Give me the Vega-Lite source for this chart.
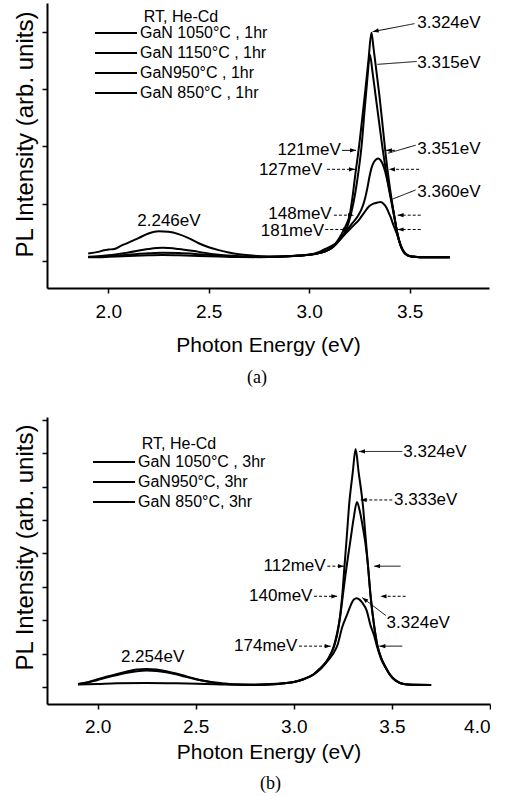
{
"$schema":"https://vega.github.io/schema/vega-lite/v6.json",
"padding":{"left":13,"top":3,"right":0,"bottom":0},
"config":{"font":"Liberation Sans","view":{"stroke":null},
"axis":{"domainColor":"black","domainWidth":2,"tickColor":"black","tickWidth":1.5,"tickSize":5,"grid":false,"labelColor":"black","titleColor":"black","labelFont":"Liberation Sans","titleFont":"Liberation Sans","titleFontWeight":"normal"},
"legend":{"labelFont":"Liberation Sans","titleFont":"Liberation Sans","labelColor":"black","titleColor":"black","titleFontWeight":"normal","padding":0},
"title":{"font":"Liberation Serif","fontSize":18,"fontWeight":"normal","color":"black"}},
"datasets":{
"curvesA":[
{"s":"GaN 1050°C , 1hr","E":1.9,"I":0.065},{"s":"GaN 1050°C , 1hr","E":1.95,"I":0.068},{"s":"GaN 1050°C , 1hr","E":2.0,"I":0.075},{"s":"GaN 1050°C , 1hr","E":2.1,"I":0.09},{"s":"GaN 1050°C , 1hr","E":2.2,"I":0.1},{"s":"GaN 1050°C , 1hr","E":2.27,"I":0.105},{"s":"GaN 1050°C , 1hr","E":2.35,"I":0.1},{"s":"GaN 1050°C , 1hr","E":2.45,"I":0.09},{"s":"GaN 1050°C , 1hr","E":2.55,"I":0.08},{"s":"GaN 1050°C , 1hr","E":2.65,"I":0.07},{"s":"GaN 1050°C , 1hr","E":2.75,"I":0.068},{"s":"GaN 1050°C , 1hr","E":2.85,"I":0.075},{"s":"GaN 1050°C , 1hr","E":2.95,"I":0.095},{"s":"GaN 1050°C , 1hr","E":3.0,"I":0.11},{"s":"GaN 1050°C , 1hr","E":3.05,"I":0.14},{"s":"GaN 1050°C , 1hr","E":3.08,"I":0.17},{"s":"GaN 1050°C , 1hr","E":3.11,"I":0.23},{"s":"GaN 1050°C , 1hr","E":3.13,"I":0.3},{"s":"GaN 1050°C , 1hr","E":3.15,"I":0.4},{"s":"GaN 1050°C , 1hr","E":3.17,"I":0.53},{"s":"GaN 1050°C , 1hr","E":3.19,"I":0.68},{"s":"GaN 1050°C , 1hr","E":3.2,"I":0.78},{"s":"GaN 1050°C , 1hr","E":3.215,"I":1.1},{"s":"GaN 1050°C , 1hr","E":3.23,"I":1.52},{"s":"GaN 1050°C , 1hr","E":3.25,"I":2.05},{"s":"GaN 1050°C , 1hr","E":3.265,"I":2.52},{"s":"GaN 1050°C , 1hr","E":3.28,"I":3.0},{"s":"GaN 1050°C , 1hr","E":3.295,"I":3.5},{"s":"GaN 1050°C , 1hr","E":3.31,"I":3.98},{"s":"GaN 1050°C , 1hr","E":3.32,"I":3.72},{"s":"GaN 1050°C , 1hr","E":3.335,"I":3.3},{"s":"GaN 1050°C , 1hr","E":3.35,"I":2.87},{"s":"GaN 1050°C , 1hr","E":3.365,"I":2.38},{"s":"GaN 1050°C , 1hr","E":3.38,"I":1.88},{"s":"GaN 1050°C , 1hr","E":3.395,"I":1.45},{"s":"GaN 1050°C , 1hr","E":3.41,"I":1.08},{"s":"GaN 1050°C , 1hr","E":3.425,"I":0.76},{"s":"GaN 1050°C , 1hr","E":3.44,"I":0.47},{"s":"GaN 1050°C , 1hr","E":3.455,"I":0.28},{"s":"GaN 1050°C , 1hr","E":3.47,"I":0.17},{"s":"GaN 1050°C , 1hr","E":3.49,"I":0.105},{"s":"GaN 1050°C , 1hr","E":3.51,"I":0.08},{"s":"GaN 1050°C , 1hr","E":3.55,"I":0.068},{"s":"GaN 1050°C , 1hr","E":3.6,"I":0.065},{"s":"GaN 1050°C , 1hr","E":3.7,"I":0.065},
{"s":"GaN 1150°C , 1hr","E":1.9,"I":0.07},{"s":"GaN 1150°C , 1hr","E":1.95,"I":0.075},{"s":"GaN 1150°C , 1hr","E":2.0,"I":0.085},{"s":"GaN 1150°C , 1hr","E":2.1,"I":0.11},{"s":"GaN 1150°C , 1hr","E":2.2,"I":0.135},{"s":"GaN 1150°C , 1hr","E":2.27,"I":0.145},{"s":"GaN 1150°C , 1hr","E":2.35,"I":0.14},{"s":"GaN 1150°C , 1hr","E":2.45,"I":0.12},{"s":"GaN 1150°C , 1hr","E":2.55,"I":0.095},{"s":"GaN 1150°C , 1hr","E":2.65,"I":0.08},{"s":"GaN 1150°C , 1hr","E":2.75,"I":0.07},{"s":"GaN 1150°C , 1hr","E":2.85,"I":0.075},{"s":"GaN 1150°C , 1hr","E":2.95,"I":0.095},{"s":"GaN 1150°C , 1hr","E":3.0,"I":0.11},{"s":"GaN 1150°C , 1hr","E":3.05,"I":0.14},{"s":"GaN 1150°C , 1hr","E":3.08,"I":0.17},{"s":"GaN 1150°C , 1hr","E":3.11,"I":0.22},{"s":"GaN 1150°C , 1hr","E":3.13,"I":0.28},{"s":"GaN 1150°C , 1hr","E":3.15,"I":0.36},{"s":"GaN 1150°C , 1hr","E":3.17,"I":0.46},{"s":"GaN 1150°C , 1hr","E":3.19,"I":0.6},{"s":"GaN 1150°C , 1hr","E":3.21,"I":0.85},{"s":"GaN 1150°C , 1hr","E":3.23,"I":1.2},{"s":"GaN 1150°C , 1hr","E":3.245,"I":1.55},{"s":"GaN 1150°C , 1hr","E":3.262,"I":2.05},{"s":"GaN 1150°C , 1hr","E":3.275,"I":2.6},{"s":"GaN 1150°C , 1hr","E":3.29,"I":3.2},{"s":"GaN 1150°C , 1hr","E":3.302,"I":3.6},{"s":"GaN 1150°C , 1hr","E":3.315,"I":3.3},{"s":"GaN 1150°C , 1hr","E":3.33,"I":2.9},{"s":"GaN 1150°C , 1hr","E":3.345,"I":2.5},{"s":"GaN 1150°C , 1hr","E":3.363,"I":2.02},{"s":"GaN 1150°C , 1hr","E":3.38,"I":1.62},{"s":"GaN 1150°C , 1hr","E":3.395,"I":1.32},{"s":"GaN 1150°C , 1hr","E":3.41,"I":1.04},{"s":"GaN 1150°C , 1hr","E":3.425,"I":0.75},{"s":"GaN 1150°C , 1hr","E":3.44,"I":0.46},{"s":"GaN 1150°C , 1hr","E":3.455,"I":0.28},{"s":"GaN 1150°C , 1hr","E":3.47,"I":0.17},{"s":"GaN 1150°C , 1hr","E":3.49,"I":0.1},{"s":"GaN 1150°C , 1hr","E":3.51,"I":0.078},{"s":"GaN 1150°C , 1hr","E":3.55,"I":0.068},{"s":"GaN 1150°C , 1hr","E":3.6,"I":0.065},{"s":"GaN 1150°C , 1hr","E":3.7,"I":0.065},
{"s":"GaN950°C , 1hr","E":1.9,"I":0.075},{"s":"GaN950°C , 1hr","E":1.95,"I":0.085},{"s":"GaN950°C , 1hr","E":2.0,"I":0.1},{"s":"GaN950°C , 1hr","E":2.1,"I":0.15},{"s":"GaN950°C , 1hr","E":2.2,"I":0.21},{"s":"GaN950°C , 1hr","E":2.27,"I":0.23},{"s":"GaN950°C , 1hr","E":2.35,"I":0.21},{"s":"GaN950°C , 1hr","E":2.45,"I":0.16},{"s":"GaN950°C , 1hr","E":2.55,"I":0.11},{"s":"GaN950°C , 1hr","E":2.65,"I":0.085},{"s":"GaN950°C , 1hr","E":2.75,"I":0.075},{"s":"GaN950°C , 1hr","E":2.85,"I":0.08},{"s":"GaN950°C , 1hr","E":2.95,"I":0.095},{"s":"GaN950°C , 1hr","E":3.0,"I":0.11},{"s":"GaN950°C , 1hr","E":3.05,"I":0.14},{"s":"GaN950°C , 1hr","E":3.08,"I":0.17},{"s":"GaN950°C , 1hr","E":3.11,"I":0.23},{"s":"GaN950°C , 1hr","E":3.13,"I":0.29},{"s":"GaN950°C , 1hr","E":3.15,"I":0.38},{"s":"GaN950°C , 1hr","E":3.18,"I":0.5},{"s":"GaN950°C , 1hr","E":3.215,"I":0.66},{"s":"GaN950°C , 1hr","E":3.245,"I":0.8},{"s":"GaN950°C , 1hr","E":3.26,"I":0.9},{"s":"GaN950°C , 1hr","E":3.275,"I":1.05},{"s":"GaN950°C , 1hr","E":3.29,"I":1.28},{"s":"GaN950°C , 1hr","E":3.3,"I":1.47},{"s":"GaN950°C , 1hr","E":3.31,"I":1.62},{"s":"GaN950°C , 1hr","E":3.323,"I":1.73},{"s":"GaN950°C , 1hr","E":3.344,"I":1.79},{"s":"GaN950°C , 1hr","E":3.355,"I":1.76},{"s":"GaN950°C , 1hr","E":3.367,"I":1.68},{"s":"GaN950°C , 1hr","E":3.378,"I":1.56},{"s":"GaN950°C , 1hr","E":3.39,"I":1.38},{"s":"GaN950°C , 1hr","E":3.4,"I":1.2},{"s":"GaN950°C , 1hr","E":3.41,"I":1.02},{"s":"GaN950°C , 1hr","E":3.425,"I":0.74},{"s":"GaN950°C , 1hr","E":3.44,"I":0.46},{"s":"GaN950°C , 1hr","E":3.455,"I":0.27},{"s":"GaN950°C , 1hr","E":3.47,"I":0.16},{"s":"GaN950°C , 1hr","E":3.49,"I":0.1},{"s":"GaN950°C , 1hr","E":3.51,"I":0.078},{"s":"GaN950°C , 1hr","E":3.55,"I":0.068},{"s":"GaN950°C , 1hr","E":3.6,"I":0.065},{"s":"GaN950°C , 1hr","E":3.7,"I":0.065},
{"s":"GaN 850°C , 1hr","E":1.9,"I":0.13},{"s":"GaN 850°C , 1hr","E":1.95,"I":0.16},{"s":"GaN 850°C , 1hr","E":1.98,"I":0.19},{"s":"GaN 850°C , 1hr","E":2.0,"I":0.2},{"s":"GaN 850°C , 1hr","E":2.03,"I":0.21},{"s":"GaN 850°C , 1hr","E":2.06,"I":0.26},{"s":"GaN 850°C , 1hr","E":2.1,"I":0.32},{"s":"GaN 850°C , 1hr","E":2.15,"I":0.4},{"s":"GaN 850°C , 1hr","E":2.2,"I":0.48},{"s":"GaN 850°C , 1hr","E":2.25,"I":0.52},{"s":"GaN 850°C , 1hr","E":2.3,"I":0.51},{"s":"GaN 850°C , 1hr","E":2.35,"I":0.47},{"s":"GaN 850°C , 1hr","E":2.4,"I":0.4},{"s":"GaN 850°C , 1hr","E":2.45,"I":0.31},{"s":"GaN 850°C , 1hr","E":2.5,"I":0.24},{"s":"GaN 850°C , 1hr","E":2.55,"I":0.19},{"s":"GaN 850°C , 1hr","E":2.6,"I":0.15},{"s":"GaN 850°C , 1hr","E":2.65,"I":0.12},{"s":"GaN 850°C , 1hr","E":2.7,"I":0.1},{"s":"GaN 850°C , 1hr","E":2.8,"I":0.08},{"s":"GaN 850°C , 1hr","E":2.9,"I":0.085},{"s":"GaN 850°C , 1hr","E":3.0,"I":0.11},{"s":"GaN 850°C , 1hr","E":3.05,"I":0.16},{"s":"GaN 850°C , 1hr","E":3.08,"I":0.21},{"s":"GaN 850°C , 1hr","E":3.11,"I":0.26},{"s":"GaN 850°C , 1hr","E":3.15,"I":0.36},{"s":"GaN 850°C , 1hr","E":3.181,"I":0.48},{"s":"GaN 850°C , 1hr","E":3.215,"I":0.6},{"s":"GaN 850°C , 1hr","E":3.248,"I":0.72},{"s":"GaN 850°C , 1hr","E":3.275,"I":0.85},{"s":"GaN 850°C , 1hr","E":3.297,"I":0.95},{"s":"GaN 850°C , 1hr","E":3.32,"I":1.0},{"s":"GaN 850°C , 1hr","E":3.34,"I":1.02},{"s":"GaN 850°C , 1hr","E":3.355,"I":1.03},{"s":"GaN 850°C , 1hr","E":3.37,"I":1.0},{"s":"GaN 850°C , 1hr","E":3.385,"I":0.93},{"s":"GaN 850°C , 1hr","E":3.395,"I":0.85},{"s":"GaN 850°C , 1hr","E":3.405,"I":0.77},{"s":"GaN 850°C , 1hr","E":3.42,"I":0.62},{"s":"GaN 850°C , 1hr","E":3.44,"I":0.44},{"s":"GaN 850°C , 1hr","E":3.455,"I":0.27},{"s":"GaN 850°C , 1hr","E":3.47,"I":0.16},{"s":"GaN 850°C , 1hr","E":3.49,"I":0.1},{"s":"GaN 850°C , 1hr","E":3.51,"I":0.078},{"s":"GaN 850°C , 1hr","E":3.55,"I":0.068},{"s":"GaN 850°C , 1hr","E":3.6,"I":0.065},{"s":"GaN 850°C , 1hr","E":3.7,"I":0.065}
],
"curvesB":[
{"s":"GaN 1050°C , 3hr","E":1.9,"I":0.08},{"s":"GaN 1050°C , 3hr","E":2.0,"I":0.1},{"s":"GaN 1050°C , 3hr","E":2.1,"I":0.12},{"s":"GaN 1050°C , 3hr","E":2.25,"I":0.13},{"s":"GaN 1050°C , 3hr","E":2.4,"I":0.12},{"s":"GaN 1050°C , 3hr","E":2.55,"I":0.1},{"s":"GaN 1050°C , 3hr","E":2.7,"I":0.08},{"s":"GaN 1050°C , 3hr","E":2.85,"I":0.09},{"s":"GaN 1050°C , 3hr","E":2.95,"I":0.12},{"s":"GaN 1050°C , 3hr","E":3.0,"I":0.16},{"s":"GaN 1050°C , 3hr","E":3.05,"I":0.24},{"s":"GaN 1050°C , 3hr","E":3.1,"I":0.38},{"s":"GaN 1050°C , 3hr","E":3.137,"I":0.58},{"s":"GaN 1050°C , 3hr","E":3.16,"I":0.72},{"s":"GaN 1050°C , 3hr","E":3.18,"I":0.9},{"s":"GaN 1050°C , 3hr","E":3.205,"I":1.25},{"s":"GaN 1050°C , 3hr","E":3.22,"I":1.6},{"s":"GaN 1050°C , 3hr","E":3.235,"I":2.1},{"s":"GaN 1050°C , 3hr","E":3.247,"I":2.75},{"s":"GaN 1050°C , 3hr","E":3.258,"I":3.6},{"s":"GaN 1050°C , 3hr","E":3.27,"I":4.5},{"s":"GaN 1050°C , 3hr","E":3.281,"I":5.39},{"s":"GaN 1050°C , 3hr","E":3.3,"I":6.4},{"s":"GaN 1050°C , 3hr","E":3.315,"I":7.12},{"s":"GaN 1050°C , 3hr","E":3.33,"I":6.45},{"s":"GaN 1050°C , 3hr","E":3.353,"I":5.39},{"s":"GaN 1050°C , 3hr","E":3.365,"I":4.55},{"s":"GaN 1050°C , 3hr","E":3.378,"I":3.64},{"s":"GaN 1050°C , 3hr","E":3.391,"I":2.75},{"s":"GaN 1050°C , 3hr","E":3.408,"I":1.9},{"s":"GaN 1050°C , 3hr","E":3.426,"I":1.25},{"s":"GaN 1050°C , 3hr","E":3.445,"I":0.88},{"s":"GaN 1050°C , 3hr","E":3.468,"I":0.6},{"s":"GaN 1050°C , 3hr","E":3.49,"I":0.38},{"s":"GaN 1050°C , 3hr","E":3.52,"I":0.2},{"s":"GaN 1050°C , 3hr","E":3.56,"I":0.1},{"s":"GaN 1050°C , 3hr","E":3.6,"I":0.075},{"s":"GaN 1050°C , 3hr","E":3.7,"I":0.07},
{"s":"GaN950°C, 3hr","E":1.9,"I":0.1},{"s":"GaN950°C, 3hr","E":1.95,"I":0.15},{"s":"GaN950°C, 3hr","E":2.0,"I":0.24},{"s":"GaN950°C, 3hr","E":2.05,"I":0.32},{"s":"GaN950°C, 3hr","E":2.1,"I":0.4},{"s":"GaN950°C, 3hr","E":2.15,"I":0.47},{"s":"GaN950°C, 3hr","E":2.2,"I":0.53},{"s":"GaN950°C, 3hr","E":2.25,"I":0.55},{"s":"GaN950°C, 3hr","E":2.3,"I":0.53},{"s":"GaN950°C, 3hr","E":2.35,"I":0.48},{"s":"GaN950°C, 3hr","E":2.4,"I":0.41},{"s":"GaN950°C, 3hr","E":2.45,"I":0.33},{"s":"GaN950°C, 3hr","E":2.5,"I":0.25},{"s":"GaN950°C, 3hr","E":2.55,"I":0.19},{"s":"GaN950°C, 3hr","E":2.6,"I":0.14},{"s":"GaN950°C, 3hr","E":2.65,"I":0.11},{"s":"GaN950°C, 3hr","E":2.7,"I":0.085},{"s":"GaN950°C, 3hr","E":2.8,"I":0.07},{"s":"GaN950°C, 3hr","E":2.9,"I":0.09},{"s":"GaN950°C, 3hr","E":2.95,"I":0.12},{"s":"GaN950°C, 3hr","E":3.0,"I":0.16},{"s":"GaN950°C, 3hr","E":3.05,"I":0.24},{"s":"GaN950°C, 3hr","E":3.1,"I":0.38},{"s":"GaN950°C, 3hr","E":3.137,"I":0.58},{"s":"GaN950°C, 3hr","E":3.16,"I":0.72},{"s":"GaN950°C, 3hr","E":3.18,"I":0.9},{"s":"GaN950°C, 3hr","E":3.205,"I":1.22},{"s":"GaN950°C, 3hr","E":3.22,"I":1.55},{"s":"GaN950°C, 3hr","E":3.235,"I":2.05},{"s":"GaN950°C, 3hr","E":3.25,"I":2.75},{"s":"GaN950°C, 3hr","E":3.262,"I":3.3},{"s":"GaN950°C, 3hr","E":3.275,"I":3.85},{"s":"GaN950°C, 3hr","E":3.29,"I":4.45},{"s":"GaN950°C, 3hr","E":3.305,"I":5.05},{"s":"GaN950°C, 3hr","E":3.322,"I":5.54},{"s":"GaN950°C, 3hr","E":3.335,"I":5.3},{"s":"GaN950°C, 3hr","E":3.35,"I":4.85},{"s":"GaN950°C, 3hr","E":3.365,"I":4.3},{"s":"GaN950°C, 3hr","E":3.378,"I":3.64},{"s":"GaN950°C, 3hr","E":3.391,"I":2.75},{"s":"GaN950°C, 3hr","E":3.408,"I":1.9},{"s":"GaN950°C, 3hr","E":3.426,"I":1.25},{"s":"GaN950°C, 3hr","E":3.445,"I":0.88},{"s":"GaN950°C, 3hr","E":3.468,"I":0.6},{"s":"GaN950°C, 3hr","E":3.49,"I":0.38},{"s":"GaN950°C, 3hr","E":3.52,"I":0.2},{"s":"GaN950°C, 3hr","E":3.56,"I":0.1},{"s":"GaN950°C, 3hr","E":3.6,"I":0.075},{"s":"GaN950°C, 3hr","E":3.7,"I":0.07},
{"s":"GaN 850°C, 3hr","E":1.9,"I":0.09},{"s":"GaN 850°C, 3hr","E":1.95,"I":0.14},{"s":"GaN 850°C, 3hr","E":2.0,"I":0.22},{"s":"GaN 850°C, 3hr","E":2.05,"I":0.3},{"s":"GaN 850°C, 3hr","E":2.1,"I":0.37},{"s":"GaN 850°C, 3hr","E":2.15,"I":0.43},{"s":"GaN 850°C, 3hr","E":2.2,"I":0.48},{"s":"GaN 850°C, 3hr","E":2.25,"I":0.5},{"s":"GaN 850°C, 3hr","E":2.3,"I":0.49},{"s":"GaN 850°C, 3hr","E":2.35,"I":0.45},{"s":"GaN 850°C, 3hr","E":2.4,"I":0.39},{"s":"GaN 850°C, 3hr","E":2.45,"I":0.31},{"s":"GaN 850°C, 3hr","E":2.5,"I":0.24},{"s":"GaN 850°C, 3hr","E":2.55,"I":0.18},{"s":"GaN 850°C, 3hr","E":2.6,"I":0.13},{"s":"GaN 850°C, 3hr","E":2.65,"I":0.1},{"s":"GaN 850°C, 3hr","E":2.7,"I":0.08},{"s":"GaN 850°C, 3hr","E":2.8,"I":0.07},{"s":"GaN 850°C, 3hr","E":2.9,"I":0.09},{"s":"GaN 850°C, 3hr","E":2.95,"I":0.12},{"s":"GaN 850°C, 3hr","E":3.0,"I":0.16},{"s":"GaN 850°C, 3hr","E":3.05,"I":0.25},{"s":"GaN 850°C, 3hr","E":3.1,"I":0.38},{"s":"GaN 850°C, 3hr","E":3.128,"I":0.5},{"s":"GaN 850°C, 3hr","E":3.16,"I":0.7},{"s":"GaN 850°C, 3hr","E":3.188,"I":0.9},{"s":"GaN 850°C, 3hr","E":3.205,"I":1.05},{"s":"GaN 850°C, 3hr","E":3.222,"I":1.25},{"s":"GaN 850°C, 3hr","E":3.247,"I":1.8},{"s":"GaN 850°C, 3hr","E":3.27,"I":2.15},{"s":"GaN 850°C, 3hr","E":3.29,"I":2.45},{"s":"GaN 850°C, 3hr","E":3.305,"I":2.62},{"s":"GaN 850°C, 3hr","E":3.32,"I":2.66},{"s":"GaN 850°C, 3hr","E":3.335,"I":2.62},{"s":"GaN 850°C, 3hr","E":3.35,"I":2.52},{"s":"GaN 850°C, 3hr","E":3.371,"I":2.3},{"s":"GaN 850°C, 3hr","E":3.391,"I":1.85},{"s":"GaN 850°C, 3hr","E":3.409,"I":1.55},{"s":"GaN 850°C, 3hr","E":3.426,"I":1.18},{"s":"GaN 850°C, 3hr","E":3.445,"I":0.85},{"s":"GaN 850°C, 3hr","E":3.468,"I":0.58},{"s":"GaN 850°C, 3hr","E":3.49,"I":0.37},{"s":"GaN 850°C, 3hr","E":3.52,"I":0.2},{"s":"GaN 850°C, 3hr","E":3.56,"I":0.1},{"s":"GaN 850°C, 3hr","E":3.6,"I":0.075},{"s":"GaN 850°C, 3hr","E":3.7,"I":0.07}
],
"notesA":[
{"label":"3.324eV","kind":"peak","E":3.538,"I":4.15},{"label":"3.315eV","kind":"peak","E":3.538,"I":3.46},{"label":"3.351eV","kind":"peak","E":3.538,"I":1.95},{"label":"3.360eV","kind":"peak","E":3.538,"I":1.21},
{"label":"121meV","kind":"fwhm","E":3.157,"I":1.93},{"label":"127meV","kind":"fwhm","E":3.065,"I":1.59},{"label":"148meV","kind":"fwhm","E":3.112,"I":0.82},{"label":"181meV","kind":"fwhm","E":3.074,"I":0.52},
{"label":"2.246eV","kind":"band","E":2.302,"I":0.69}
],
"notesB":[
{"label":"3.324eV","kind":"peak","E":3.558,"I":7.04},{"label":"3.333eV","kind":"peak","E":3.511,"I":5.61},{"label":"3.324eV","kind":"peak","E":3.473,"I":1.92},
{"label":"112meV","kind":"fwhm","E":3.162,"I":3.62},{"label":"140meV","kind":"fwhm","E":3.095,"I":2.72},{"label":"174meV","kind":"fwhm","E":3.018,"I":1.23},
{"label":"2.254eV","kind":"band","E":2.28,"I":0.9}
],
"arrowsA":[
{"E":3.524,"I":4.14,"E2":3.316,"I2":4.0,"style":"solid"},{"E":3.535,"I":3.48,"E2":3.339,"I2":3.43,"style":"solid"},{"E":3.53,"I":2.02,"E2":3.392,"I2":1.88,"style":"solid"},{"E":3.53,"I":1.24,"E2":3.414,"I2":1.08,"style":"solid"},
{"E":3.163,"I":1.93,"E2":3.233,"I2":1.93,"style":"solid"},{"E":3.427,"I":1.93,"E2":3.382,"I2":1.93,"style":"solid"},
{"E":3.089,"I":1.6,"E2":3.228,"I2":1.6,"style":"dashed"},{"E":3.547,"I":1.6,"E2":3.397,"I2":1.6,"style":"dashed"},
{"E":3.123,"I":0.8,"E2":3.223,"I2":0.8,"style":"dashed"},{"E":3.555,"I":0.8,"E2":3.44,"I2":0.8,"style":"dashed"},
{"E":3.08,"I":0.55,"E2":3.198,"I2":0.55,"style":"dashed"},{"E":3.555,"I":0.55,"E2":3.44,"I2":0.55,"style":"dashed"}
],
"headsA":[
{"E":3.316,"I":4.0,"dir":"diagA"},{"E":3.233,"I":1.93,"dir":"right"},{"E":3.382,"I":1.93,"dir":"left"},{"E":3.228,"I":1.6,"dir":"right"},{"E":3.397,"I":1.6,"dir":"left"},{"E":3.223,"I":0.8,"dir":"right"},{"E":3.44,"I":0.8,"dir":"left"},{"E":3.198,"I":0.55,"dir":"right"},{"E":3.44,"I":0.55,"dir":"left"}
],
"arrowsB":[
{"E":3.553,"I":7.05,"E2":3.332,"I2":7.05,"style":"solid"},{"E":3.502,"I":5.6,"E2":3.341,"I2":5.6,"style":"dashed"},{"E":3.468,"I":2.15,"E2":3.349,"I2":2.68,"style":"solid"},
{"E":3.171,"I":3.62,"E2":3.256,"I2":3.62,"style":"dashed"},{"E":3.544,"I":3.62,"E2":3.409,"I2":3.62,"style":"solid"},
{"E":3.103,"I":2.72,"E2":3.222,"I2":2.72,"style":"dashed"},{"E":3.57,"I":2.72,"E2":3.442,"I2":2.72,"style":"dashed"},
{"E":3.027,"I":1.23,"E2":3.188,"I2":1.23,"style":"dashed"},{"E":3.553,"I":1.23,"E2":3.436,"I2":1.23,"style":"solid"}
],
"headsB":[
{"E":3.332,"I":7.05,"dir":"left"},{"E":3.341,"I":5.6,"dir":"left"},{"E":3.349,"I":2.68,"dir":"diagB"},{"E":3.256,"I":3.62,"dir":"right"},{"E":3.409,"I":3.62,"dir":"left"},{"E":3.222,"I":2.72,"dir":"right"},{"E":3.442,"I":2.72,"dir":"left"},{"E":3.188,"I":1.23,"dir":"right"},{"E":3.436,"I":1.23,"dir":"left"}
]
},
"spacing":129,
"bounds":"flush",
"resolve":{"scale":{"color":"independent","shape":"independent","strokeDash":"independent"},"legend":{"color":"independent"}},
"vconcat":[
{"width":442,"height":285,
"title":{"text":"(a)","orient":"bottom","dx":-11,"offset":14},
"encoding":{
"x":{"field":"E","type":"quantitative","scale":{"domain":[1.695,3.895],"nice":false,"zero":false},
"axis":{"values":[2,2.5,3,3.5],"format":".1f","labelFontSize":19,"labelPadding":9,"title":"Photon Energy (eV)","titleFontSize":21,"titlePadding":13}},
"y":{"field":"I","type":"quantitative","scale":{"domain":[-0.47,4.5],"nice":false,"zero":false},
"axis":{"values":[0,1,2,3,4],"labels":false,"title":"PL Intensity (arb. units)","titleFontSize":24,"titlePadding":4,"titleY":131}}},
"layer":[
{"data":{"name":"curvesA"},"mark":{"type":"line","interpolate":"monotone","strokeWidth":2},
"encoding":{"color":{"field":"s","type":"nominal","scale":{"domain":["GaN 1050°C , 1hr","GaN 1150°C , 1hr","GaN950°C , 1hr","GaN 850°C , 1hr"],"range":["black","black","black","black"]},
"legend":{"orient":"none","legendX":47,"legendY":6,"title":"RT, He-Cd","titleFontSize":16,"titleAnchor":"middle","titlePadding":0,"labelFontSize":16,"symbolType":"M-1,0H5","symbolSize":196,"symbolStrokeWidth":2,"labelOffset":30,"rowPadding":4}}}},
{"data":{"name":"arrowsA"},"mark":{"type":"rule","color":"black","strokeWidth":1},
"encoding":{"x2":{"field":"E2"},"y2":{"field":"I2"},"strokeDash":{"field":"style","type":"nominal","scale":{"domain":["solid","dashed"],"range":[[1,0],[3,2]]},"legend":null}}},
{"data":{"name":"headsA"},"mark":{"type":"point","filled":true,"color":"black","size":36,"opacity":1},
"encoding":{"shape":{"field":"dir","type":"nominal","scale":{"domain":["left","right","diagA"],"range":["M0,0L2,-0.7L2,0.7Z","M0,0L-2,-0.7L-2,0.7Z","M0,0L2.1,0.26L1.81,-1.11Z"]},"legend":null}}},
{"data":{"name":"notesA"},"transform":[{"filter":"datum.kind==='peak'"}],"mark":{"type":"text","align":"left","baseline":"middle","fontSize":17,"color":"black"},"encoding":{"text":{"field":"label"}}},
{"data":{"name":"notesA"},"transform":[{"filter":"datum.kind==='fwhm'"}],"mark":{"type":"text","align":"right","baseline":"middle","fontSize":17,"color":"black"},"encoding":{"text":{"field":"label"}}},
{"data":{"name":"notesA"},"transform":[{"filter":"datum.kind==='band'"}],"mark":{"type":"text","align":"center","baseline":"middle","fontSize":17,"color":"black"},"encoding":{"text":{"field":"label"}}}
]},
{"width":443,"height":287,
"title":{"text":"(b)","orient":"bottom","dx":2,"offset":13},
"encoding":{
"x":{"field":"E","type":"quantitative","scale":{"domain":[1.742,4.0],"nice":false,"zero":false},
"axis":{"values":[2,2.5,3,3.5,4],"format":".1f","labelFontSize":19,"labelPadding":8,"title":"Photon Energy (eV)","titleFontSize":21,"titlePadding":5}},
"y":{"field":"I","type":"quantitative","scale":{"domain":[-0.5,8.08],"nice":false,"zero":false},
"axis":{"values":[0,1,2,3,4,5,6,7,8],"labels":false,"title":"PL Intensity (arb. units)","titleFontSize":24,"titlePadding":4,"titleY":130}}},
"layer":[
{"data":{"name":"curvesB"},"mark":{"type":"line","interpolate":"monotone","strokeWidth":2},
"encoding":{"color":{"field":"s","type":"nominal","scale":{"domain":["GaN 1050°C , 3hr","GaN950°C, 3hr","GaN 850°C, 3hr"],"range":["black","black","black"]},
"legend":{"orient":"none","legendX":45,"legendY":19,"title":"RT, He-Cd","titleFontSize":16,"titleAnchor":"middle","titlePadding":2,"labelFontSize":16,"symbolType":"M-1,0H5","symbolSize":196,"symbolStrokeWidth":2,"labelOffset":30,"rowPadding":4}}}},
{"data":{"name":"arrowsB"},"mark":{"type":"rule","color":"black","strokeWidth":1},
"encoding":{"x2":{"field":"E2"},"y2":{"field":"I2"},"strokeDash":{"field":"style","type":"nominal","scale":{"domain":["solid","dashed"],"range":[[1,0],[3,2]]},"legend":null}}},
{"data":{"name":"headsB"},"mark":{"type":"point","filled":true,"color":"black","size":36,"opacity":1},
"encoding":{"shape":{"field":"dir","type":"nominal","scale":{"domain":["left","right","diagB"],"range":["M0,0L2,-0.7L2,0.7Z","M0,0L-2,-0.7L-2,0.7Z","M0,0L2.01,0.65L1.17,1.77Z"]},"legend":null}}},
{"data":{"name":"notesB"},"transform":[{"filter":"datum.kind==='peak'"}],"mark":{"type":"text","align":"left","baseline":"middle","fontSize":17,"color":"black"},"encoding":{"text":{"field":"label"}}},
{"data":{"name":"notesB"},"transform":[{"filter":"datum.kind==='fwhm'"}],"mark":{"type":"text","align":"right","baseline":"middle","fontSize":17,"color":"black"},"encoding":{"text":{"field":"label"}}},
{"data":{"name":"notesB"},"transform":[{"filter":"datum.kind==='band'"}],"mark":{"type":"text","align":"center","baseline":"middle","fontSize":17,"color":"black"},"encoding":{"text":{"field":"label"}}}
]}
]
}
